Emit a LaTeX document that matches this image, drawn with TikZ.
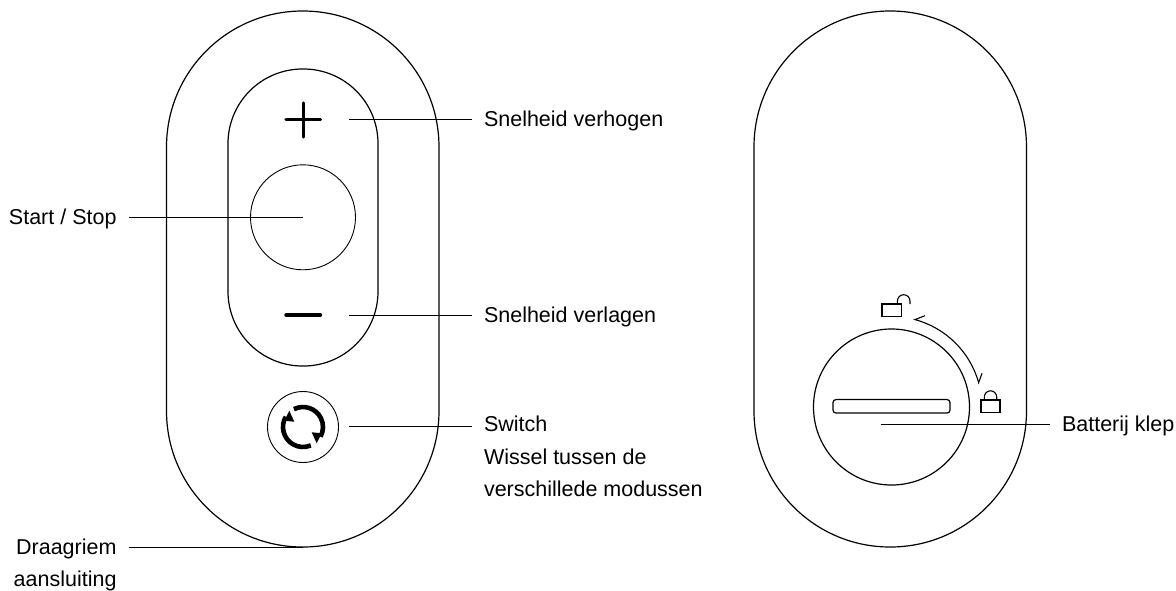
\documentclass[tikz,border=0pt]{standalone}
\usepackage{fontspec}
\setmainfont{Liberation Sans}
\usetikzlibrary{arrows.meta}

\tikzset{
	lbl/.style={inner sep=0pt, outer ysep=0pt, outer xsep=12.5pt, text height=18pt, text depth=4pt, font=\fontsize{21.5}{26}\selectfont},
	lblright/.style={lbl, anchor=west},
	lblleft/.style={lbl, anchor=east},
	outline/.style={draw, line width=1.2pt, inner sep=0pt, outer sep=0pt},
	thinline/.style={line width=0.9pt},
	icon/.style={line width=3.4pt, line cap=round},
	lockline/.style={line width=1.1pt},
}

\begin{document}
\begin{tikzpicture}[x=1pt, y=-1pt]
	\useasboundingbox (0,0) rectangle (1176,590);

	\node[outline, minimum width=272.5pt, minimum height=536pt, rounded corners=136pt] (bodyfront) at (302.75,279) {};
	\node[outline, minimum width=150pt, minimum height=297pt, rounded corners=74.5pt] (panel) at (303,217.5) {};
	\node[outline, thinline, shape=circle, minimum size=105pt] (startbtn) at (303,217.3) {};
	\node[outline, thinline, shape=circle, minimum size=71pt] (switchbtn) at (303,427) {};
	\node[outline, minimum width=272.5pt, minimum height=536pt, rounded corners=136pt] (bodyback) at (890.25,279) {};
	\node[outline, shape=circle, minimum size=156pt] (lid) at (891.5,407) {};
	\node[outline, minimum width=117pt, minimum height=13.5pt, rounded corners=3pt] (slot) at (891.5,406.3) {};

	\draw[icon] (286,119.3) -- (320.5,119.3);
	\draw[icon] (303.2,103) -- (303.2,137);
	\draw[icon] (286,315) -- (320.5,315);

	\coordinate (arrows) at (303,427);
	\draw[line width=4.6pt] (arrows) ++(149:20pt) arc[start angle=149, end angle=293, radius=20pt];
	\draw[line width=4.6pt] (arrows) ++(117:20pt) arc[start angle=117, end angle=-29, radius=20pt];
	\fill (289.3,410.7) -- (284.3,420.7) -- (294.3,421.7) -- cycle;
	\fill (316.7,443.3) -- (321.7,433.3) -- (311.7,432.3) -- cycle;

	\draw[lockline] (882,304) rectangle (901.3,316.7);
	\draw[lockline] (897.4,304) -- (897.4,301) arc[start angle=180, end angle=0, radius=6.3pt] -- (910,304);
	\draw[lockline] (981,400) rectangle (1000,412.3);
	\draw[lockline] (984.3,400) -- (984.3,397) arc[start angle=180, end angle=0, radius=6.2pt] -- (996.7,400);
	\draw[lockline] (925,315.7) -- (914.9,319.6) arc[start angle=75, end angle=15.6, radius=90.5pt] -- (982,373.3);

	\node[lblright] (verhogen) at (471.5,119) {Snelheid verhogen};
	\node[lblright] (verlagen) at (471.5,315) {Snelheid verlagen};
	\node[lblright, text height=15.4pt] (switch) at (471.5,426) {Switch};
	\node[lblright] (wissel) at (471.5,457.3) {Wissel tussen de};
	\node[lblright] (modussen) at (471.5,489) {verschillede modussen};
	\node[lblright] (klep) at (1049.5,424) {Batterij klep};
	\node[lblleft] (startstop) at (129,217.3) {Start / Stop};
	\node[lblleft] (draagriem) at (129,547) {Draagriem};
	\node[lblleft] (aansluiting) at (129,579) {aansluiting};

	\coordinate (plusend) at (349,119);
	\coordinate (minend) at (349,315);
	\coordinate (switchend) at (349,426);
	\coordinate (lidend) at (881,424);

	\path [-, thinline] (plusend) edge (verhogen.west);
	\path [-, thinline] (minend) edge (verlagen.west);
	\path [-, thinline] (switchend) edge (switch.west);
	\path [-, thinline] (lidend) edge (klep.west);
	\path [-, thinline] (startstop.east) edge (startbtn.center);
	\path [-, thinline] (draagriem.east) edge (bodyfront.south);
\end{tikzpicture}
\end{document}
